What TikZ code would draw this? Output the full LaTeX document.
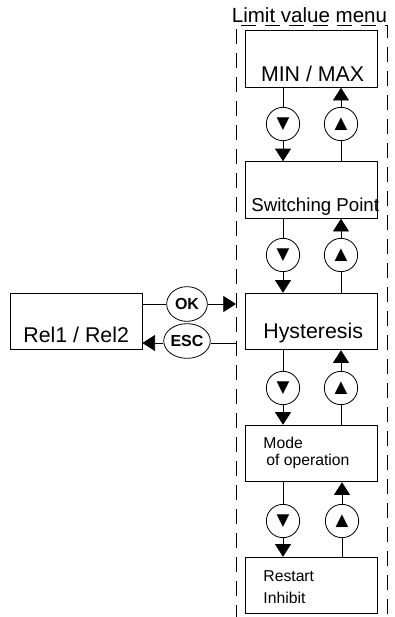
\documentclass[tikz,border=0pt]{standalone}
\usepackage{fontspec}
\setmainfont{Liberation Sans}
\newfontfamily\symfont{DejaVu Sans}
\usetikzlibrary{arrows.meta,shapes.geometric}

\begin{document}
\begin{tikzpicture}[x=0.75pt, y=-0.75pt, line width=0.6pt,
  menubox/.style={draw, minimum width=99pt, minimum height=42.5pt, inner sep=0pt},
  keyring/.style={draw, circle, minimum size=25pt, inner sep=0pt},
  keyoval/.style={draw, ellipse, minimum width=30.5pt, minimum height=26pt, inner sep=0pt,
    font=\bfseries\fontsize{12}{14}\selectfont},
  arr/.style={-{Triangle[width=12pt,length=9.5pt]}},
  framed/.style={dash pattern=on 11pt off 7pt},
  big/.style={font=\fontsize{16}{19}\selectfont},
  small/.style={font=\fontsize{11.8}{14}\selectfont},
  tri/.style={font=\symfont\fontsize{12.5}{14}\selectfont}]

\useasboundingbox (0,0) rectangle (394,617);

% dashed frame of the menu
\draw[framed] (236,620) -- (236,25) -- (387,25) -- (387,620);
\node[anchor=base, font=\fontsize{15.4}{18}\selectfont] (title) at (309.5,23) {Limit value menu};

\node[menubox] (minmax)   at (311.5,59)    {};
\node[menubox] (switchpt) at (311.5,190)   {};
\node[menubox] (hyst)     at (311.5,321.5) {};
\node[menubox] (mode)     at (311.5,453.5) {};
\node[menubox] (restart)  at (311.5,585.5) {};
\node[menubox] (rel)      at (76,321.5)    {};

\node[big, anchor=base east] (minmaxtxt) at (369,82) {MIN / MAX};
\node[font=\fontsize{14}{17}\selectfont, anchor=base west, inner sep=0pt] (switchtxt) at (251,211) {Switching Point};
\node[big, anchor=base west, inner sep=0pt] (hysttxt) at (263,338) {Hysteresis};
\node[small, anchor=base west, inner sep=0pt] (modetxt) at (263,448) {Mode};
\node[small, anchor=base west, inner sep=0pt] (optxt) at (266,465) {of operation};
\node[small, anchor=base west, inner sep=0pt] (restarttxt) at (263,581) {Restart};
\node[small, anchor=base west, inner sep=0pt] (inhibittxt) at (263,603) {Inhibit};
\node[big, anchor=base west, inner sep=0pt] (reltxt) at (23,342) {Rel1 / Rel2};

% down / up keys
\node[keyring, tri] (dn1) at (283,124) {▼};
\node[keyring, tri] (up1) at (341,124) {▲};
\node[keyring, tri] (dn2) at (283,255) {▼};
\node[keyring, tri] (up2) at (341,255) {▲};
\node[keyring, tri] (dn3) at (283,388) {▼};
\node[keyring, tri] (up3) at (341,388) {▲};
\node[keyring, tri] (dn4) at (283,521) {▼};
\node[keyring, tri] (up4) at (342,521) {▲};

\draw (dn1 |- minmax.south) -- (dn1.north);
\draw[arr] (dn1.south) -- (dn1 |- switchpt.north);
\draw (up1 |- switchpt.north) -- (up1.south);
\draw[arr] (up1.north) -- (up1 |- minmax.south);

\draw (dn2 |- switchpt.south) -- (dn2.north);
\draw[arr] (dn2.south) -- (dn2 |- hyst.north);
\draw (up2 |- hyst.north) -- (up2.south);
\draw[arr] (up2.north) -- (up2 |- switchpt.south);

\draw (dn3 |- hyst.south) -- (dn3.north);
\draw[arr] (dn3.south) -- (dn3 |- mode.north);
\draw (up3 |- mode.north) -- (up3.south);
\draw[arr] (up3.north) -- (up3 |- hyst.south);

\draw (dn4 |- mode.south) -- (dn4.north);
\draw[arr] (dn4.south) -- (dn4 |- restart.north);
\draw (up4 |- restart.north) -- (up4.south);
\draw[arr] (up4.north) -- (up4 |- mode.south);

% OK / ESC keys
\node[keyoval] (ok)  at (187,304) {OK};
\node[keyoval] (esc) at (187,341) {ESC};
\coordinate (okend) at (236,304);
\coordinate (escstart) at (237,343);

\draw (rel.east |- ok) -- (ok.west);
\draw[arr] (ok.east) -- (okend);
\draw (escstart) -- (esc.east |- escstart);
\draw[arr] (esc.west |- escstart) -- (rel.east |- escstart);
\end{tikzpicture}
\end{document}
